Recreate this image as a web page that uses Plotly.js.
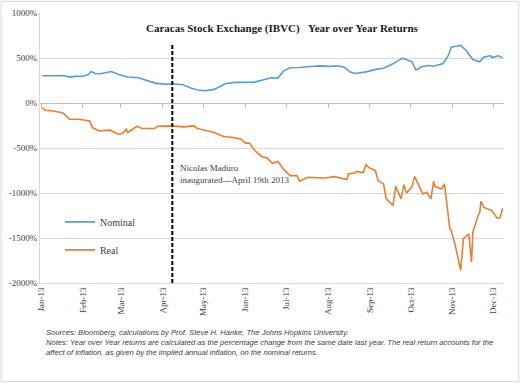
<!DOCTYPE html>
<html>
<head>
<meta charset="utf-8">
<script src="https://cdn.plot.ly/plotly-3.0.1.min.js"></script>
<style>html,body{margin:0;padding:0;background:#fff;}#chart{width:522px;height:384px;}</style>
</head>
<body>
<div id="chart"></div>
<script>
// ---- data ----
const nominalDates = ['2013-01-02','2013-01-11','2013-01-17','2013-01-23','2013-01-26','2013-02-01','2013-02-05','2013-02-07','2013-02-10','2013-02-14','2013-02-22','2013-02-28','2013-03-06','2013-03-14','2013-03-21','2013-03-27','2013-04-03','2013-04-08','2013-04-16','2013-04-22','2013-04-27','2013-05-02','2013-05-09','2013-05-17','2013-05-24','2013-06-01','2013-06-08','2013-06-15','2013-06-20','2013-06-25','2013-06-29','2013-07-04','2013-07-11','2013-07-19','2013-07-26','2013-08-02','2013-08-08','2013-08-13','2013-08-17','2013-08-21','2013-08-29','2013-09-06','2013-09-11','2013-09-18','2013-09-25','2013-10-02','2013-10-05','2013-10-09','2013-10-14','2013-10-18','2013-10-25','2013-10-29','2013-10-31','2013-11-07','2013-11-11','2013-11-16','2013-11-21','2013-11-24','2013-11-29','2013-11-30','2013-12-05','2013-12-08'];
const nominalValues = [302,302,306,288,298,298,317,350,328,325,350,313,288,280,251,218,210,214,203,163,144,136,151,214,229,232,232,262,280,277,354,391,394,406,413,409,413,398,346,328,346,376,387,435,498,457,365,402,417,409,439,531,619,641,583,483,457,509,527,505,524,501];

const realDates = ['2013-01-02','2013-01-04','2013-01-10','2013-01-17','2013-01-22','2013-01-29','2013-02-06','2013-02-08','2013-02-13','2013-02-21','2013-02-27','2013-03-02','2013-03-05','2013-03-06','2013-03-13','2013-03-16','2013-03-26','2013-03-28','2013-04-07','2013-04-17','2013-04-24','2013-04-26','2013-05-02','2013-05-09','2013-05-16','2013-05-23','2013-05-29','2013-06-01','2013-06-04','2013-06-08','2013-06-13','2013-06-17','2013-06-21','2013-06-25','2013-06-29','2013-07-04','2013-07-09','2013-07-11','2013-07-17','2013-07-25','2013-07-30','2013-08-06','2013-08-15','2013-08-16','2013-08-21','2013-08-22','2013-08-27','2013-08-29','2013-08-31','2013-09-05','2013-09-07','2013-09-11','2013-09-13','2013-09-18','2013-09-20','2013-09-24','2013-09-26','2013-09-28','2013-10-02','2013-10-04','2013-10-10','2013-10-13','2013-10-16','2013-10-18','2013-10-19','2013-10-24','2013-10-26','2013-10-30','2013-10-31','2013-11-03','2013-11-07','2013-11-09','2013-11-13','2013-11-15','2013-11-16','2013-11-20','2013-11-21','2013-11-22','2013-11-24','2013-11-30','2013-12-04','2013-12-06','2013-12-08'];
const realValues = [-52,-81,-88,-107,-181,-181,-199,-273,-310,-302,-347,-339,-291,-328,-258,-280,-284,-258,-254,-265,-251,-280,-302,-328,-372,-383,-402,-446,-446,-531,-594,-612,-671,-649,-733,-807,-807,-870,-826,-826,-833,-818,-851,-789,-774,-760,-774,-686,-715,-752,-863,-899,-1065,-1139,-925,-1065,-907,-999,-929,-815,-1010,-992,-1065,-870,-929,-955,-899,-1397,-1416,-1582,-1858,-1508,-1453,-1766,-1434,-1242,-1224,-1092,-1158,-1195,-1280,-1276,-1169];

const monthTicks = ['2013-01-01','2013-02-01','2013-03-01','2013-04-01','2013-05-01','2013-06-01','2013-07-01','2013-08-01','2013-09-01','2013-10-01','2013-11-01','2013-12-01'];
const monthLabels = ['Jan-13','Feb-13','Mar-13','Apr-13','May-13','Jun-13','Jul-13','Aug-13','Sep-13','Oct-13','Nov-13','Dec-13'];
const yTicks = [-2000,-1500,-1000,-500,0,500,1000];
const yLabels = ['-2000%','-1500%','-1000%','-500%','0%','500%','1000%'];
const seriesNames = ['Nominal','Real'];
const eventDate = '2013-04-08';
const eventText = 'Nicolas Maduro<br>inaugurated\u2014April 19th 2013';
const titleText = 'Caracas Stock Exchange (IBVC)\u00a0\u00a0\u00a0Year over Year Returns';
const noteText = '<i>Sources: Bloomberg, calculations by Prof. Steve H. Hanke, The Johns Hopkins University.<br>Notes: Year over Year returns are calculated as the percentage change from the same date last year. The real return accounts for the<br>affect of inflation, as given by the implied annual inflation, on the nominal returns.</i>';

const serif = '"Liberation Serif", "DejaVu Serif", serif';
const traces = [
  {x: nominalDates, y: nominalValues, name: seriesNames[0], type: 'scatter', mode: 'lines',
   line: {color: '#5B9BD5', width: 1.6}, legendgroup: 'a', hoverinfo: 'skip'},
  {x: realDates, y: realValues, name: seriesNames[1], type: 'scatter', mode: 'lines',
   line: {color: '#ED7D31', width: 1.6}, legendgroup: 'b', hoverinfo: 'skip'},
  {x: [monthTicks[0]], y: [null], xaxis: 'x2', yaxis: 'y', showlegend: false, hoverinfo: 'skip', mode: 'lines'}
];

const layout = {
  width: 522, height: 384,
  margin: {l: 40, r: 18, t: 13, b: 101},
  paper_bgcolor: '#fff', plot_bgcolor: '#fff',
  font: {family: serif, size: 9, color: '#404040'},
  showlegend: true,
  legend: {x: 0.043, y: 0.28, xanchor: 'left', yanchor: 'top', bgcolor: 'rgba(0,0,0,0)',
           font: {family: serif, size: 10, color: '#404040'}, traceorder: 'grouped', tracegroupgap: 9, itemwidth: 30},
  xaxis: {type: 'date', range: ['2012-12-31 06:00', '2013-12-09'], tickvals: monthTicks, ticktext: monthLabels,
          tickangle: -90, showgrid: false, zeroline: false, showline: true, linecolor: '#D9D9D9', linewidth: 1,
          ticks: '', tickfont: {family: serif, size: 9, color: '#404040'}, fixedrange: true},
  xaxis2: {type: 'date', overlaying: 'x', matches: 'x', anchor: 'free', position: 2/3, side: 'bottom',
           tickvals: monthTicks, showticklabels: false, ticks: 'outside', ticklen: 4, tickcolor: '#BFBFBF',
           showline: true, linecolor: '#BFBFBF', linewidth: 1, showgrid: false, zeroline: false},
  yaxis: {range: [-2000, 1000], tickvals: yTicks, ticktext: yLabels, showgrid: true, gridcolor: '#D9D9D9',
          gridwidth: 1, zeroline: false, showline: true, linecolor: '#D9D9D9', ticks: '', ticklen: 0,
          tickfont: {family: serif, size: 9, color: '#404040'}, fixedrange: true},
  shapes: [
    {type: 'line', xref: 'x', yref: 'y', x0: eventDate, x1: eventDate, y0: -2000, y1: 660,
     line: {color: '#000', width: 2, dash: '4px,2px'}},
    {type: 'rect', xref: 'paper', yref: 'paper', x0: -0.084, x1: 1.032, y0: -0.365, y1: 1.043,
     line: {color: '#D9D9D9', width: 1}, fillcolor: 'rgba(0,0,0,0)'}
  ],
  annotations: [
    {xref: 'paper', yref: 'paper', x: 0.5216, y: 0.943, xanchor: 'center', yanchor: 'middle', showarrow: false,
     text: '<b>' + titleText + '</b>', font: {family: serif, size: 11, color: '#1a1a1a'}},
    {xref: 'paper', yref: 'paper', x: 0.2975, y: 0.403, xanchor: 'left', yanchor: 'middle', align: 'left', showarrow: false,
     text: eventText, font: {family: serif, size: 9, color: '#404040'}},
    {xref: 'paper', yref: 'paper', x: 0.0086, y: -0.161, xanchor: 'left', yanchor: 'top', align: 'left', showarrow: false,
     text: noteText, font: {family: 'Liberation Sans', size: 7.6, color: '#404040'}}
  ]
};

Plotly.newPlot('chart', traces, layout, {displayModeBar: false, staticPlot: true});
</script>
</body>
</html>
